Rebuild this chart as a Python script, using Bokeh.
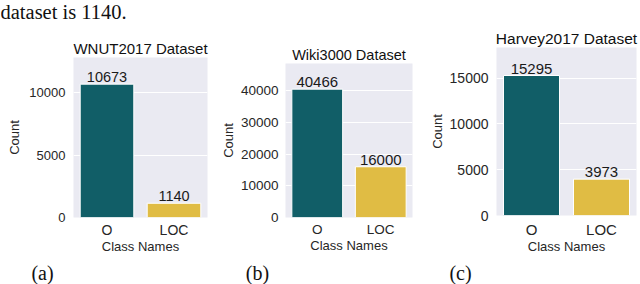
from bokeh.plotting import figure
from bokeh.layouts import row, column
from bokeh.models import ColumnDataSource, Range1d, FixedTicker, NumeralTickFormatter
from bokeh.core.properties import value
from bokeh.embed import file_html
from bokeh.resources import INLINE

titles = ["WNUT2017 Dataset", "Wiki3000 Dataset", "Harvey2017 Dataset"]
classes = ["O", "LOC"]
o_counts = [10673, 40466, 15295]
loc_counts = [1140, 16000, 3973]
yticks = [[0, 5000, 10000], [0, 10000, 20000, 30000, 40000], [0, 5000, 10000, 15000]]
panel_tags = ["(a)", "(b)", "(c)"]
caption_text = "dataset is 1140."
colors = ["#115e67", "#e0bc44"]

SANS = "Liberation Sans"
SERIF = "Liberation Serif"

# layout per panel (pixels): border left/right/top/bottom, frame size, font sizes, standoffs
layout = [
    dict(l=73, r=7, t=32, b=41, fw=134, fh=160, title_fs="15px", ytick_fs="13px",
         xtick_fs="14px", val_fs="14.5px", ystand=8, ylab=4, xstand=4),
    dict(l=71, r=8, t=38, b=41, fw=127, fh=154, title_fs="14.5px", ytick_fs="13.5px",
         xtick_fs="13.5px", val_fs="15px", ystand=7, ylab=2, xstand=4),
    dict(l=76, r=4, t=22, b=43, fw=140, fh=168, title_fs="15.5px", ytick_fs="14px",
         xtick_fs="15px", val_fs="15px", ystand=8, ylab=2, xstand=5),
]
TOTAL_W = 640
TOP_H = 25
BOT_H = 26
tag_x = [42, 257, 460]


def strip(height):
    s = figure(width=TOTAL_W, height=height, x_range=Range1d(0, TOTAL_W),
               y_range=Range1d(0, height), output_backend="svg", toolbar_location=None,
               min_border=0, x_axis_type=None, y_axis_type=None, title=None)
    s.outline_line_color = None
    s.xgrid.visible = False
    s.ygrid.visible = False
    s.background_fill_color = "white"
    s.border_fill_color = "white"
    return s


top = strip(TOP_H)
top.text(x=[0], y=[13.5], text=[caption_text], text_font=value(SERIF), text_font_size="20.5px",
         text_align="left", text_baseline="middle", text_color="#111111")

panels = []
for i in range(3):
    L = layout[i]
    counts = [o_counts[i], loc_counts[i]]
    src = ColumnDataSource(dict(cls=classes, count=counts, color=colors,
                                label=[str(c) for c in counts]))
    p = figure(x_range=classes, y_range=Range1d(0, max(counts) * 1.2),
               width=L["l"] + L["fw"] + L["r"], height=L["t"] + L["fh"] + L["b"],
               output_backend="svg", toolbar_location=None,
               min_border_left=L["l"], min_border_right=L["r"],
               min_border_top=L["t"], min_border_bottom=L["b"])
    p.title.text = titles[i]
    p.title.align = "center"
    p.title.text_font = SANS
    p.title.text_font_size = L["title_fs"]
    p.title.text_font_style = "normal"
    p.title.text_color = "#111111"
    p.title.standoff = 1
    p.background_fill_color = "#eaeaf2"
    p.border_fill_color = "white"
    p.outline_line_color = None
    p.xgrid.grid_line_color = None
    p.ygrid.grid_line_color = "white"
    p.ygrid.grid_line_width = 1

    p.vbar(x="cls", top="count", width=0.8, source=src, fill_color="color",
           line_color="white", line_width=1)
    p.text(x="cls", y="count", text="label", source=src, text_align="center",
           text_baseline="bottom", y_offset=-2, text_font_size=L["val_fs"],
           text_color="#1a1a1a", text_font=value(SANS))

    p.yaxis.ticker = FixedTicker(ticks=yticks[i])
    p.yaxis.formatter = NumeralTickFormatter(format="0")
    for ax in (p.xaxis, p.yaxis):
        ax.axis_line_color = None
        ax.major_tick_line_color = None
        ax.minor_tick_line_color = None
        ax.major_tick_out = 0
        ax.major_tick_in = 0
        ax.minor_tick_out = 0
        ax.minor_tick_in = 0
        ax.major_label_text_font = SANS
        ax.major_label_text_color = "#262626"
        ax.axis_label_text_font = SANS
        ax.axis_label_text_font_size = "13px"
        ax.axis_label_text_font_style = "normal"
        ax.axis_label_text_color = "#262626"
    p.yaxis.major_label_text_font_size = L["ytick_fs"]
    p.xaxis.major_label_text_font_size = L["xtick_fs"]
    p.yaxis.axis_label = "Count"
    p.xaxis.axis_label = "Class Names"
    p.yaxis.major_label_standoff = L["ystand"]
    p.yaxis.axis_label_standoff = L["ylab"]
    p.xaxis.major_label_standoff = L["xstand"]
    p.xaxis.axis_label_standoff = -2
    panels.append(column(p))

bottom = strip(BOT_H)
bottom.text(x=tag_x, y=[12] * 3, text=panel_tags, text_font=value(SERIF),
            text_font_size="20px", text_align="center", text_baseline="middle",
            text_color="#111111")

lay = column(top, row(*panels, spacing=0), bottom, spacing=0)
open("out.html", "w").write(file_html(lay, INLINE))
